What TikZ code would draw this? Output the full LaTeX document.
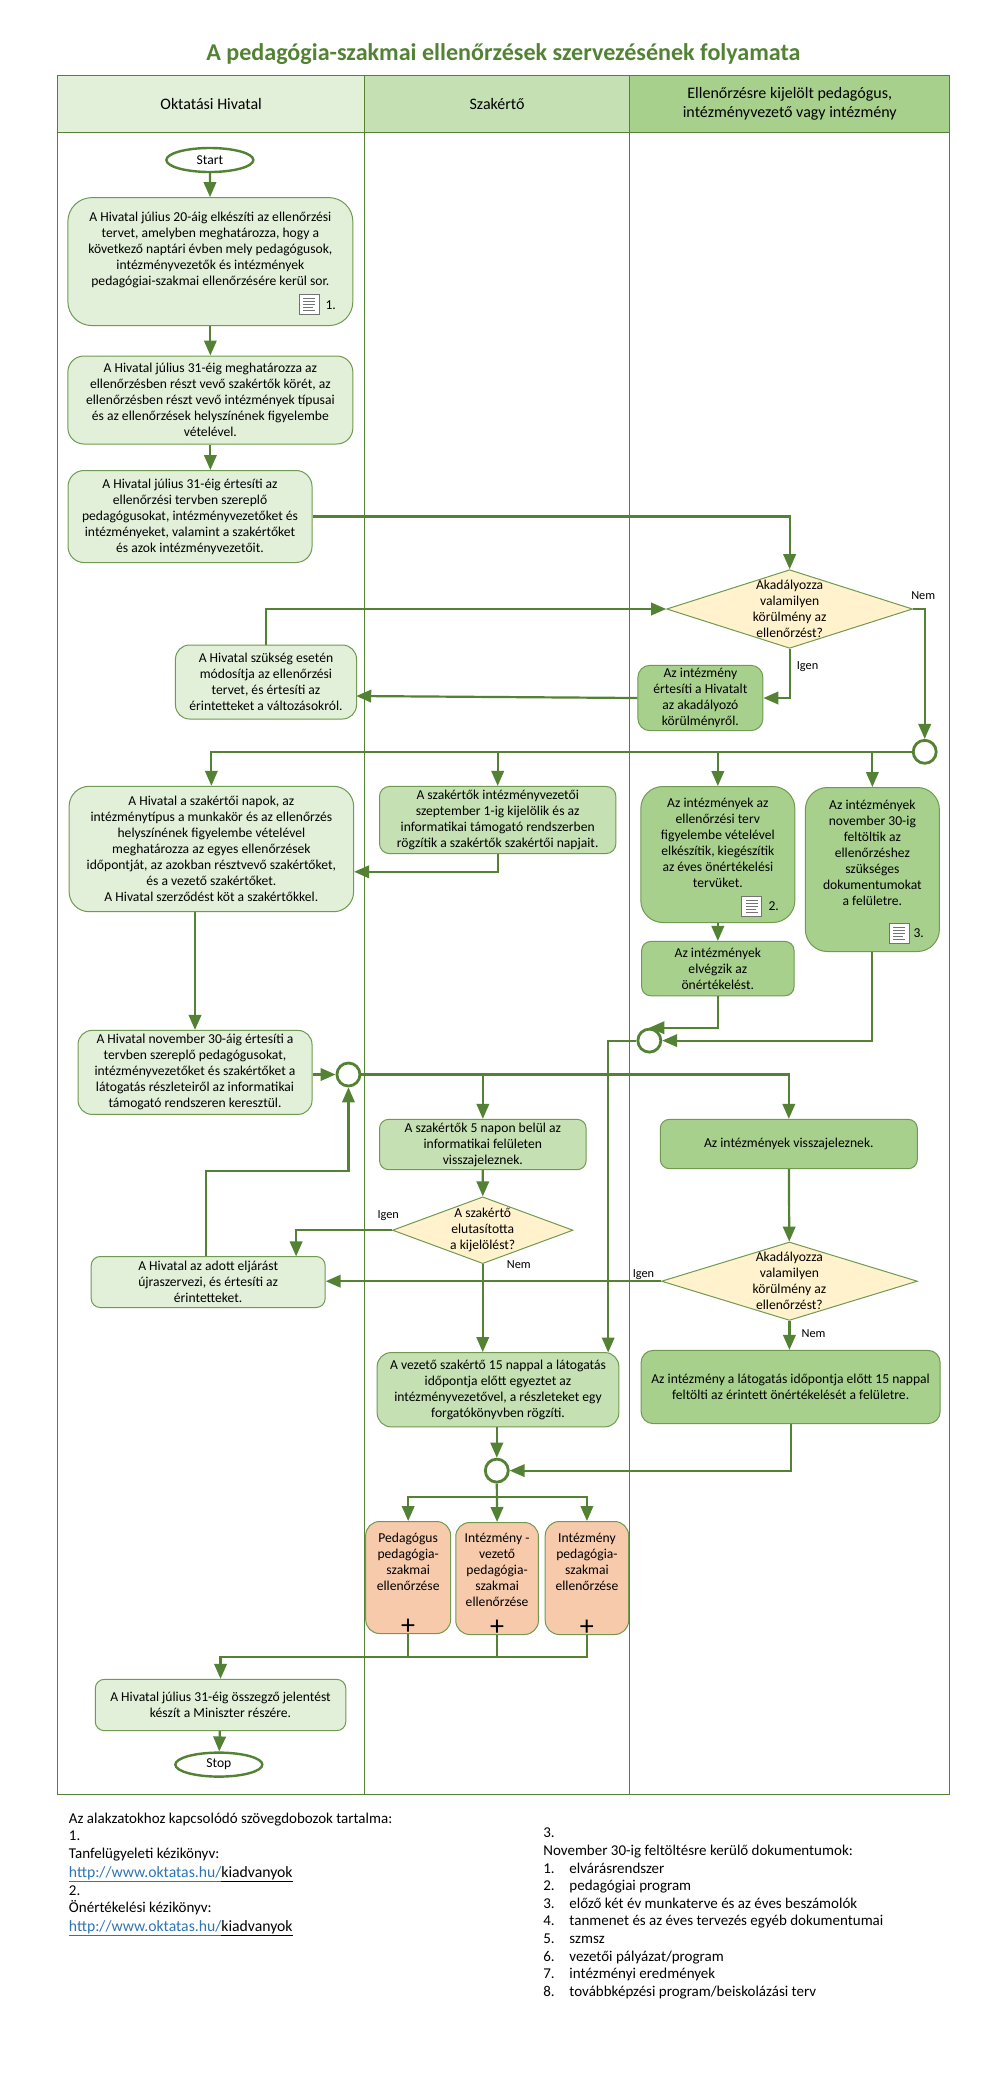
\documentclass[tikz,border=0pt]{standalone}
\usepackage{fontspec}
\setmainfont{Carlito}
\usetikzlibrary{arrows.meta,calc,shapes.geometric}
\definecolor{linegreen}{HTML}{548235}
\definecolor{edgegreen}{HTML}{6F9A50}
\definecolor{lanea}{HTML}{E2EFD9}
\definecolor{laneb}{HTML}{C5E0B3}
\definecolor{lanec}{HTML}{A8D08D}
\definecolor{decfill}{HTML}{FFF2CC}
\definecolor{subfill}{HTML}{F7CAAC}
\definecolor{linkblue}{HTML}{2E74B5}
\def\docicon(#1,#2){\draw[draw=black!55,fill=white,line width=1pt] (#1-10,#2-10) rectangle (#1+10,#2+10);
	\foreach \yy/\xx in {-6/6,-3/6,0/6,3/4,6/6} \draw[black!55,line width=1pt] (#1-6,#2+\yy) -- (#1+\xx,#2+\yy);}
\tikzset{
	body/.style={font=\fontsize{13.6}{16}\selectfont,align=center,text=black},
	proc/.style={body,draw=edgegreen,line width=1pt,inner sep=0pt,rounded corners=12pt},
	hdr/.style={body,draw=linegreen,line width=1pt,inner sep=0pt,minimum height=57pt,font=\fontsize{16}{18.5}\selectfont},
	term/.style={body,ellipse,draw=linegreen,fill=white,line width=2.4pt,inner sep=0pt,minimum width=87pt,minimum height=24pt},
	dec/.style={diamond,draw=edgegreen,fill=decfill,line width=1pt,inner sep=0pt},
	merge/.style={circle,draw=linegreen,fill=white,line width=2.8pt,inner sep=0pt,minimum size=23pt},
	flow/.style={-{Triangle[length=15pt,width=12.5pt]},draw=linegreen,line width=2.2pt},
	thinflow/.style={draw=linegreen,line width=1.8pt},
	lane/.style={draw=linegreen,line width=1pt},
	small/.style={body,font=\fontsize{12.3}{14}\selectfont},
	note/.style={anchor=base west,yshift=-5pt,inner sep=0pt,font=\fontsize{15}{17}\selectfont},
	urlnote/.style={note,font=\fontsize{15.7}{17}\selectfont},
}
\begin{document}
\begin{tikzpicture}[x=0.997pt,y=-1pt]
	\useasboundingbox (0,0) rectangle (1011.03,2078);
	
	\node[text=linegreen,font=\bfseries\fontsize{24.1}{28}\selectfont] (title) at (505,54) {A pedagógia-szakmai ellenőrzések szervezésének folyamata};
	
	%%% lanes
	\draw[lane] (58,132.5) rectangle (365.6,1794.4);
	\draw[lane] (365.6,132.5) rectangle (631.7,1794.4);
	\draw[lane] (631.7,132.5) rectangle (952.5,1794.4);
	\node[hdr,fill=lanea,minimum width=306.7pt] (hdra) at (211.8,104) {Oktatási Hivatal};
	\node[hdr,fill=laneb,minimum width=265.3pt] (hdrb) at (498.6,104) {Szakértő};
	\node[hdr,fill=lanec,minimum width=319.8pt] (hdrc) at (792.1,104) {Ellenőrzésre kijelölt pedagógus,\\intézményvezető vagy intézmény};
	
	%%% first lane
	\node[term] (start) at (210.5,160) {Start};
	\node[proc,fill=lanea,minimum width=285pt,minimum height=128pt,rounded corners=24pt] (tervA) at (211,261.6) {};
	\node[body] (tervAt) at (211,250) {A Hivatal július 20-áig elkészíti az ellenőrzési\\tervet, amelyben meghatározza, hogy a\\következő naptári évben mely pedagógusok,\\intézményvezetők és intézmények\\pedagógiai-szakmai ellenőrzésére kerül sor.};
	\docicon(310,304.5)
	\node[body] (jelA) at (331.7,305) {1.};
	\node[proc,fill=lanea,minimum width=285pt,minimum height=88pt,rounded corners=16pt] (kor) at (211,400) {A Hivatal július 31-éig meghatározza az\\ellenőrzésben részt vevő szakértők körét, az\\ellenőrzésben részt vevő intézmények típusai\\és az ellenőrzések helyszínének figyelembe\\vételével.};
	\node[proc,fill=lanea,minimum width=244pt,minimum height=92pt,rounded corners=16pt] (ertes) at (190.6,516.5) {A Hivatal július 31-éig értesíti az\\ellenőrzési tervben szereplő\\pedagógusokat, intézményvezetőket és\\intézményeket, valamint a szakértőket\\és azok intézményvezetőit.};
	\node[proc,fill=lanea,minimum width=181pt,minimum height=74pt,rounded corners=14pt] (modos) at (266.8,682) {A Hivatal szükség esetén\\módosítja az ellenőrzési\\tervet, és értesíti az\\érintetteket a változásokról.};
	\node[proc,fill=lanea,minimum width=284.5pt,minimum height=125.4pt,rounded corners=20pt] (napok) at (212,849) {A Hivatal a szakértői napok, az\\intézménytípus a munkakör és az ellenőrzés\\helyszínének figyelembe vételével\\meghatározza az egyes ellenőrzések\\időpontját, az azokban résztvevő szakértőket,\\és a vezető szakértőket.\\A Hivatal szerződést köt a szakértőkkel.};
	\node[proc,fill=lanea,minimum width=234pt,minimum height=84pt,rounded corners=14pt] (novert) at (195.6,1072.4) {A Hivatal november 30-áig értesíti a\\tervben szereplő pedagógusokat,\\intézményvezetőket és szakértőket a\\látogatás részleteiről az informatikai\\támogató rendszeren keresztül.};
	\node[proc,fill=lanea,minimum width=234pt,minimum height=51pt,rounded corners=9pt] (ujra) at (208.8,1282) {A Hivatal az adott eljárást\\újraszervezi, és értesíti az\\érintetteket.};
	\node[proc,fill=lanea,minimum width=250.5pt,minimum height=51.3pt,rounded corners=9pt] (jelent) at (221.2,1705) {A Hivatal július 31-éig összegző jelentést\\készít a Miniszter részére.};
	\node[term] (stop) at (219.5,1764.6) {Stop};
	
	%%% second lane
	\node[proc,fill=laneb,minimum width=236.4pt,minimum height=67.2pt,rounded corners=10pt] (kijel) at (499.2,820) {A szakértők intézményvezetői\\szeptember 1-ig kijelölik és az\\informatikai támogató rendszerben\\rögzítik a szakértők szakértői napjait.};
	\node[proc,fill=laneb,minimum width=206.6pt,minimum height=50.3pt,rounded corners=9pt] (vissza) at (484.3,1144.5) {A szakértők 5 napon belül az\\informatikai felületen\\visszajeleznek.};
	\node[dec,minimum width=180.5pt,minimum height=66.8pt] (elut) at (484.2,1230.2) {};
	\node[body] (elutt) at (elut) {A szakértő\\elutasította\\a kijelölést?};
	\node[proc,fill=laneb,minimum width=241.7pt,minimum height=74.3pt,rounded corners=14pt] (forg) at (499.5,1389.7) {A vezető szakértő 15 nappal a látogatás\\időpontja előtt egyeztet az\\intézményvezetővel, a részleteket egy\\forgatókönyvben rögzíti.};
	\node[proc,fill=subfill,minimum width=85pt,minimum height=112pt,rounded corners=14pt] (pedl) at (409.4,1577.5) {};
	\node[body,anchor=north] (pedlt) at (409.4,1530) {Pedagógus\\pedagógia-\\szakmai\\ellenőrzése};
	\node[proc,fill=subfill,minimum width=82.7pt,minimum height=112pt,rounded corners=14pt] (vezl) at (498.6,1578.5) {};
	\node[body,anchor=north] (vezlt) at (498.6,1530) {Intézmény -\\vezető\\pedagógia-\\szakmai\\ellenőrzése};
	\node[proc,fill=subfill,minimum width=83.4pt,minimum height=113pt,rounded corners=14pt] (intl) at (588.7,1578) {};
	\node[body,anchor=north] (intlt) at (588.7,1530) {Intézmény\\pedagógia-\\szakmai\\ellenőrzése};
	\foreach \nm in {pedl,vezl,intl}
		\node[font=\fontsize{28}{28}\selectfont,inner sep=0pt] (plus\nm) at ($(\nm.south)+(0,-7.5)$) {+};
	
	%%% third lane
	\node[dec,minimum width=246pt,minimum height=78.6pt] (akadA) at (792,609) {};
	\node[body] (akadAt) at (akadA) {Akadályozza\\valamilyen\\körülmény az\\ellenőrzést?};
	\node[proc,fill=lanec,minimum width=125pt,minimum height=65.3pt,rounded corners=12pt] (inert) at (702.5,698) {Az intézmény\\értesíti a Hivatalt\\az akadályozó\\körülményről.};
	\node[proc,fill=lanec,minimum width=154pt,minimum height=136pt,rounded corners=22pt] (onterv) at (720,854.5) {};
	\node[body] (ontervt) at (720,843) {Az intézmények az\\ellenőrzési terv\\figyelembe vételével\\elkészítik, kiegészítik\\az éves önértékelési\\tervüket.};
	\docicon(754,906.5)
	\node[body] (jelB) at (776,906.4) {2.};
	\node[proc,fill=lanec,minimum width=134pt,minimum height=164pt,rounded corners=22pt] (felt) at (875,869.5) {};
	\node[body] (feltt) at (875,853) {Az intézmények\\november 30-ig\\feltöltik az\\ellenőrzéshez\\szükséges\\dokumentumokat\\a felületre.};
	\docicon(902,933.5)
	\node[body] (jelC) at (921.5,933) {3.};
	\node[proc,fill=lanec,minimum width=152.4pt,minimum height=54.3pt,rounded corners=9pt] (elvegz) at (720,968.6) {Az intézmények\\elvégzik az\\önértékelést.};
	\node[proc,fill=lanec,minimum width=257pt,minimum height=49.3pt,rounded corners=9pt] (invissza) at (791.2,1144) {Az intézmények visszajeleznek.};
	\node[dec,minimum width=256pt,minimum height=78.4pt] (akadB) at (791.8,1281.2) {};
	\node[body] (akadBt) at (akadB) {Akadályozza\\valamilyen\\körülmény az\\ellenőrzést?};
	\node[proc,fill=lanec,minimum width=299pt,minimum height=73.2pt,rounded corners=12pt] (infelt) at (793,1387) {Az intézmény a látogatás időpontja előtt 15 nappal\\feltölti az érintett önértékelését a felületre.};
	
	%%% gateways
	\node[merge] (gwa) at (927.5,751.8) {};
	\node[merge] (gwb) at (651.3,1040.6) {};
	\node[merge] (gwc) at (349.5,1074.5) {};
	\node[merge] (gwd) at (498.3,1470.6) {};
	
	%%% free ends
	\coordinate (modosin) at (357.3,696);
	\coordinate (retur) at (207,1170.7);
	\coordinate (ujrain) at (297,1256.4);
	\coordinate (forgin) at (610,1352.5);
	\coordinate (fan) at (498.3,1496.8);
	\coordinate (mrg) at (409.4,1656.7);
	
	%%% connectors
	\draw[flow] (start) -- (tervA);
	\draw[flow] (tervA) -- (kor);
	\draw[flow] (kor.south) -- (kor.south |- ertes.north);
	\draw[flow] (ertes.east) -| (akadA.north);
	\draw[flow] (akadA.south) |- (inert.east);
	\draw[flow] (inert.west) -- (modosin);
	\draw[flow] (modos.north) |- (akadA.west);
	\draw[flow] (akadA.east) -| (gwa.north);
	\draw[flow] (gwa.west) -| (napok.north);
	\draw[flow] (gwa.west -| kijel.north) -- (kijel.north);
	\draw[flow] (gwa.west -| onterv.north) -- (onterv.north);
	\draw[flow] (gwa.west -| felt.north) -- (felt.north);
	\draw[flow] (kijel.south) |- (napok.east |- 0,871.8);
	\draw[flow] (novert.north |- napok.south) -- (novert.north);
	\draw[flow] (onterv) -- (elvegz);
	\draw[flow] (elvegz.south) |- (gwb.north);
	\draw[flow] (felt.south) |- (gwb.east);
	\draw[flow] (gwb.west) -| (forgin);
	\draw[flow] (novert.east |- gwc.west) -- (gwc.west);
	\draw[flow] (gwc.east) -| (invissza.north);
	\draw[flow] (gwc.east -| vissza.north) -- (vissza.north);
	\draw[flow] (vissza) -- (elut);
	\draw[flow] (elut.west) -| (ujrain);
	\draw[flow] (retur |- ujra.north) -- (retur) -| (gwc.south);
	\draw[flow] (elut.south) -- (elut.south |- forg.north);
	\draw[flow] (invissza) -- (akadB);
	\draw[flow] (akadB.west) -- (ujra.east |- akadB.west);
	\draw[flow] (akadB.south) -- (akadB.south |- infelt.north);
	\draw[flow] (forg.south -| gwd.north) -- (gwd.north);
	\draw[flow] (infelt.south) |- (gwd.east);
	\draw[flow] (gwd.south) -- (vezl.north);
	\draw[flow] (fan) -| (pedl.north);
	\draw[flow] (fan) -| (intl.north);
	\draw[thinflow] (pedl.south) -- (mrg);
	\draw[thinflow] (vezl.south) -- (vezl.south |- mrg);
	\draw[thinflow] (intl.south) |- (mrg);
	\draw[flow] (mrg) -| (jelent.north);
	\draw[flow] (jelent) -- (stop);
	
	%%% branch labels
	\node[small] (nemA) at (926,596) {Nem};
	\node[small] (igenA) at (810,666.4) {Igen};
	\node[small] (igenB) at (389.4,1215.4) {Igen};
	\node[small] (nemB) at (520.4,1265) {Nem};
	\node[small] (igenC) at (645.4,1274.3) {Igen};
	\node[small] (nemC) at (816,1334) {Nem};
	
	%%% notes below the lanes
	\node[note] (noa) at (69,1818.9) {Az alakzatokhoz kapcsolódó szövegdobozok tartalma:};
	\node[note] (nob) at (69,1835.7) {1.};
	\node[note] (noc) at (69,1853.6) {Tanfelügyeleti kézikönyv:};
	\node[urlnote] (nod) at (69,1872.6) {\textcolor{linkblue}{\underline{http://www.oktatas.hu/}}\underline{kiadvanyok}};
	\node[note] (noe) at (69,1890.8) {2.};
	\node[note] (nof) at (69,1907.7) {Önértékelési kézikönyv:};
	\node[urlnote] (nog) at (69,1926.3) {\textcolor{linkblue}{\underline{http://www.oktatas.hu/}}\underline{kiadvanyok}};
	\node[note] (noh) at (544.8,1832.3) {3.};
	\node[note] (noi) at (544.8,1850.6) {November 30-ig feltöltésre kerülő dokumentumok:};
	\foreach \n/\t/\y in {1/elvárásrendszer/1868.8,2/pedagógiai program/1885.7,3/előző két év munkaterve és az éves beszámolók/1903.6,4/tanmenet és az éves tervezés egyéb dokumentumai/1920.5,5/szmsz/1938.4,6/{vezetői pályázat/program}/1956.6,7/intézményi eredmények/1973.8,8/{továbbképzési program/beiskolázási terv}/1991.4}{
		\node[note] (num\n) at (544.8,\y) {\n.};
		\node[note] (doc\n) at (571,\y) {\t};
	}
\end{tikzpicture}
\end{document}
